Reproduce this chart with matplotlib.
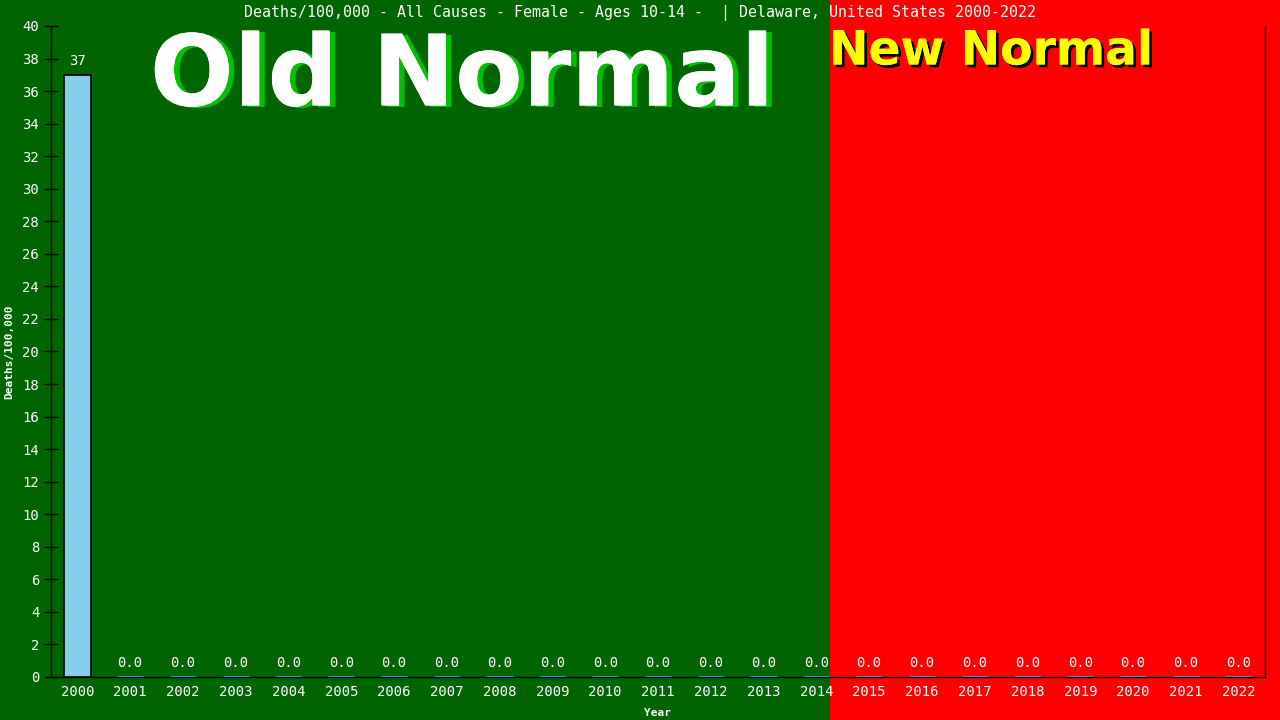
import matplotlib
matplotlib.use("Agg")
import matplotlib.pyplot as plt
import matplotlib.patheffects as pe
from matplotlib.patches import Rectangle

# Deaths/100,000 - All Causes - Female - Ages 10-14 - Delaware
anos = list(range(2000, 2023))
mortes = [37, 0, 0, 0, 0, 0, 0, 0, 0, 0, 0, 0, 0, 0, 0,
          0, 0, 0, 0, 0, 0, 0, 0]
rotulos = ["37"] + ["0.0"] * 22

FONTE = "DejaVu Sans Mono"
VERDE = "#006400"
VERMELHO = "#ff0000"

fig = plt.figure(figsize=(12.8, 7.2), dpi=100)
fig.patch.set_facecolor(VERDE)

# fundo vermelho "New Normal"
fundo = fig.add_axes([0, 0, 1, 1], zorder=0)
fundo.add_patch(Rectangle((830 / 1280, 0), 450 / 1280, 1,
                          facecolor=VERMELHO, edgecolor="none"))
fundo.set_xlim(0, 1)
fundo.set_ylim(0, 1)
fundo.axis("off")

ax = fig.add_axes([51 / 1280, 1 - 677 / 720, 1214 / 1280, 651 / 720], zorder=2)
ax.patch.set_alpha(0)

x = list(range(len(anos)))
cores_borda = ["black" if v > 0 else "#3c8ddc" for v in mortes]
larguras = [1.2 if v > 0 else 2.2 for v in mortes]
ax.bar(x, mortes, width=0.5, color="#87ceeb", edgecolor=cores_borda,
       linewidth=larguras, zorder=3)

for xi, v, r in zip(x, mortes, rotulos):
    ax.text(xi, v + 0.45, r, ha="center", va="bottom", color="white",
            fontsize=10, family=FONTE, zorder=4)

ax.set_xlim(-0.5, len(anos) - 0.5)
ax.set_ylim(0, 40)
ax.set_yticks(range(0, 41, 2))
ax.set_xticks(x)
ax.set_xticklabels([str(a) for a in anos])
ax.tick_params(axis="both", colors="black", labelcolor="white",
               labelsize=10, direction="inout", length=10, width=1)
ax.tick_params(axis="x", length=0, pad=6)
for lbl in ax.get_xticklabels() + ax.get_yticklabels():
    lbl.set_family(FONTE)

ax.spines["top"].set_visible(False)
for s in ("left", "bottom", "right"):
    ax.spines[s].set_color("black")
    ax.spines[s].set_linewidth(1)

ax.set_xlabel("Year", color="white", fontsize=8, family=FONTE,
              fontweight="bold", labelpad=6)
ax.set_ylabel("Deaths/100,000", color="white", fontsize=8, family=FONTE,
              fontweight="bold", labelpad=6)

fig.text(0.5, 1 - 13 / 720,
         "Deaths/100,000 - All Causes - Female - Ages 10-14 -  | Delaware, United States 2000-2022",
         ha="center", va="center", color="white", fontsize=10.7, family=FONTE,
         zorder=5)

fig.text(462 / 1280, 1 - 78 / 720, "Old Normal", ha="center", va="center",
         color="white", fontsize=71, fontweight="bold", family="DejaVu Sans",
         zorder=5,
         path_effects=[pe.withSimplePatchShadow(offset=(4, -1),
                                                shadow_rgbFace="#00c000",
                                                alpha=1.0),
                       pe.Normal()])

fig.text(829 / 1280, 1 - 52 / 720, "New Normal", ha="left", va="center",
         color="#ffff00", fontsize=34, fontweight="bold", family="DejaVu Sans",
         zorder=5,
         path_effects=[pe.withSimplePatchShadow(offset=(2, -2),
                                                shadow_rgbFace="black",
                                                alpha=1.0),
                       pe.Normal()])

fig.savefig("out.png", dpi=100, facecolor=fig.get_facecolor())
